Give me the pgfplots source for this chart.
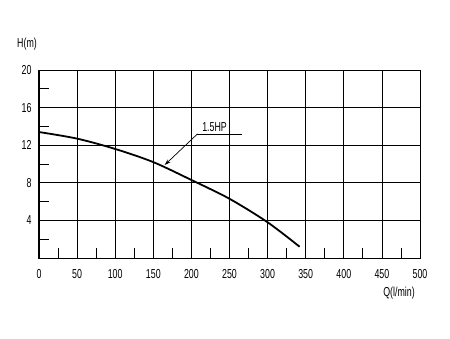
\documentclass[border=0pt]{standalone}
\usepackage{fontspec}
\setmainfont{Liberation Sans}[FakeStretch=0.68]
\usepackage{pgfplots}
\pgfplotsset{compat=1.18}
\usetikzlibrary{arrows.meta}
\begin{document}
\begin{tikzpicture}[x=1pt,y=1pt]
\path[use as bounding box] (0,0) rectangle (450,338);
\begin{axis}[
  at={(39pt,80pt)}, anchor=south west,
  scale only axis, width=381pt, height=188pt,
  xmin=0, xmax=500, ymin=0, ymax=20,
  xtick={0,50,...,500}, ytick={4,8,...,20},
  minor xtick={25,75,...,475}, minor ytick={2,6,...,18},
  tick pos=left, tick align=inside,
  major tick length=0pt, minor tick length=10pt,
  minor tick style={black, line width=0.8pt},
  grid=major, grid style={black, line width=0.8pt},
  axis line style={black, line width=1pt},
  tick label style={font=\fontsize{13}{15}\selectfont},
  /pgf/number format/assume math mode=true,
  xticklabel style={yshift=-8pt},
  yticklabel style={xshift=-4pt},
  clip=false,
]
\addplot[black, line width=1.8pt, smooth] coordinates {
 (0,13.4) (50,12.7) (100,11.6) (150,10.2) (200,8.3) (250,6.3) (300,3.8) (342,1.2)
};
\draw[black, line width=0.7pt] (axis cs:266,13.2) -- (axis cs:208,13.2);
\draw[black, line width=0.7pt, -{Stealth[length=6pt,width=4pt]}] (axis cs:208,13.2) -- (axis cs:165,9.9);
\node[anchor=base west, inner sep=0pt, font=\fontsize{13}{15}\selectfont] at (axis cs:214,13.5) {1.5HP};
\end{axis}
\node[font=\fontsize{13}{15}\selectfont] at (27,294) {H(m)};
\node[font=\fontsize{13}{15}\selectfont] at (399,45) {Q(l/min)};
\end{tikzpicture}
\end{document}
